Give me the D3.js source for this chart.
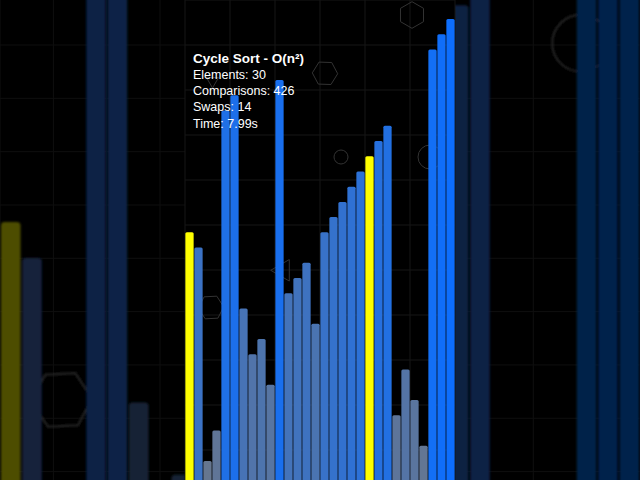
<!DOCTYPE html>
<html>
<head>
<meta charset="utf-8">
<script src="https://cdn.jsdelivr.net/npm/d3@7"></script>
<style>
  html, body { margin: 0; padding: 0; background: #000; overflow: hidden; }
  svg { display: block; }
</style>
</head>
<body>
<svg id="chart" width="640" height="480"></svg>
<script>
// ---- data ----
const values = [16, 15, 1, 3, 24, 25, 11, 8, 9, 6, 26, 12, 13, 14, 10, 16, 17, 18, 19, 20, 21, 22, 23, 4, 7, 5, 2, 28, 29, 30];
const highlighted = [0, 20];
const maxValue = 30;
const titleText = "Cycle Sort - O(n²)";
const statLabels = ["Elements", "Comparisons", "Swaps", "Time"];
const statValues = ["30", "426", "14", "7.99s"];

// ---- decorations (background ornaments, not data) ----
const hexagons = [
  { cx: 211, cy: 307.5, r: 12.7, rot: -3 },
  { cx: 325, cy: 73.3, r: 12.7, rot: 2 },
  { cx: 412, cy: 15, r: 13.3, rot: 30 }
];
const circles = [
  { cx: 341, cy: 157, r: 7 },
  { cx: 430, cy: 157, r: 12 }
];
const triangles = [
  { cx: 283.1, cy: 270.3, r: 12.4, rot: 180 },
  { cx: 212.5, cy: 81, r: 7, rot: 90 }
];

const W = 640, H = 480;
const panel = { x0: 185, x1: 455 };
const bgScale = 2.37;

const svg = d3.select("#chart");

const x = d3.scaleBand()
  .domain(d3.range(values.length))
  .range([panel.x0, panel.x1])
  .paddingInner(0.08)
  .paddingOuter(0.04);

const y = d3.scaleLinear().domain([0, maxValue]).range([476.2, 19]);

const color = d3.scaleLinear()
  .domain([1, maxValue])
  .range(["#66768f", "#0d6efd"])
  .interpolate(d3.interpolateRgb);

function barColor(d, i) {
  return highlighted.includes(i) ? "#ffff00" : color(d);
}

function polyPoints(s, n) {
  const pts = [];
  for (let k = 0; k < n; k++) {
    const a = (s.rot + k * 360 / n) * Math.PI / 180;
    pts.push([s.cx + s.r * Math.cos(a), s.cy + s.r * Math.sin(a)]);
  }
  return pts.map(p => p.join(",")).join(" ");
}

function drawShapes(g, stroke, sw) {
  g.selectAll("polygon.hex").data(hexagons).join("polygon")
    .attr("class", "hex")
    .attr("points", d => polyPoints(d, 6))
    .attr("fill", "none").attr("stroke", stroke).attr("stroke-width", sw);
  g.selectAll("polygon.tri").data(triangles).join("polygon")
    .attr("class", "tri")
    .attr("points", d => polyPoints(d, 3))
    .attr("fill", "none").attr("stroke", stroke).attr("stroke-width", sw);
  g.selectAll("circle.deco").data(circles).join("circle")
    .attr("class", "deco")
    .attr("cx", d => d.cx).attr("cy", d => d.cy).attr("r", d => d.r)
    .attr("fill", "none").attr("stroke", stroke).attr("stroke-width", sw);
}

function drawBars(g, fillFn) {
  g.selectAll("rect.bar").data(values).join("rect")
    .attr("class", "bar")
    .attr("x", (d, i) => x(i))
    .attr("y", d => y(d))
    .attr("width", x.bandwidth())
    .attr("height", d => H - y(d) + 4)
    .attr("rx", 1.5).attr("ry", 1.5)
    .attr("fill", fillFn);
}

// ---- defs ----
const defs = svg.append("defs");
defs.append("filter").attr("id", "soft")
  .attr("x", "-10%").attr("y", "-10%").attr("width", "120%").attr("height", "120%")
  .append("feGaussianBlur").attr("stdDeviation", 0.45);

// ---- background (scaled, dimmed copy) ----
svg.append("rect").attr("width", W).attr("height", H).attr("fill", "#000");

const bgGrid = svg.append("g").attr("stroke", "#0f0f0f").attr("stroke-width", 1);
const step = 22.5 * bgScale;
for (let k = -7; k <= 7; k++) {
  const gx = 320 + k * step;
  if (gx >= 0 && gx <= W) bgGrid.append("line").attr("x1", gx).attr("x2", gx).attr("y1", 0).attr("y2", H);
}
for (let gy = 45; gy <= H; gy += step) {
  bgGrid.append("line").attr("x1", 0).attr("x2", W).attr("y1", gy).attr("y2", gy);
}

const bg = svg.append("g")
  .attr("transform", `translate(320,240) scale(${bgScale}) translate(-320,-240)`)
  .attr("filter", "url(#soft)");
drawShapes(bg.append("g"), "#262626", 0.85);
drawBars(bg.append("g"), (d, i) => d3.interpolateRgb("#000", barColor(d, i))(0.3));

// ---- main panel ----
svg.append("rect")
  .attr("x", panel.x0).attr("y", 0)
  .attr("width", panel.x1 - panel.x0).attr("height", H)
  .attr("fill", "#000");

const grid = svg.append("g").attr("stroke", "#161616").attr("stroke-width", 1);
for (let gx = panel.x0; gx <= panel.x1 + 0.1; gx += 45) {
  grid.append("line").attr("x1", gx).attr("x2", gx).attr("y1", 0).attr("y2", H);
}
for (let gy = 0; gy <= H; gy += 45) {
  grid.append("line").attr("x1", panel.x0).attr("x2", panel.x1).attr("y1", gy).attr("y2", gy);
}

drawShapes(svg.append("g"), "#333333", 1);
drawBars(svg.append("g"), barColor);

// ---- text ----
const txt = svg.append("g").attr("font-family", "'Liberation Sans', Arial, sans-serif").attr("fill", "#fff");
txt.append("text")
  .attr("x", 193).attr("y", 62.5)
  .attr("font-size", 13.5).attr("font-weight", "bold")
  .text(titleText);
txt.selectAll("text.stat").data(statLabels).join("text")
  .attr("class", "stat")
  .attr("x", 193)
  .attr("y", (d, i) => 78.5 + i * 16.4)
  .attr("font-size", 12.5)
  .text((d, i) => `${d}: ${statValues[i]}`);
</script>
</body>
</html>
